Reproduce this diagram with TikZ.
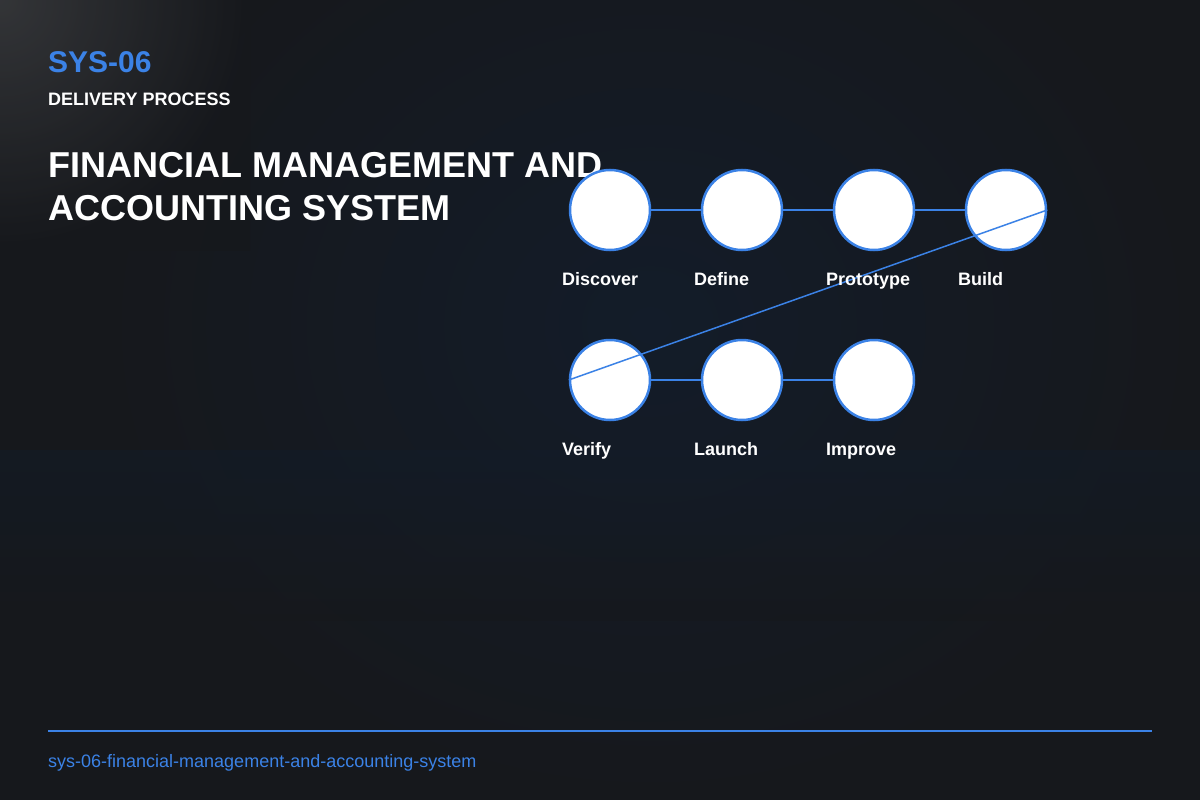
\documentclass[tikz,border=0pt]{standalone}
\usepackage{fontspec}
\setmainfont{Liberation Sans}
\definecolor{bg}{HTML}{16181C}
\definecolor{bgb}{HTML}{131C29}
\definecolor{acc}{HTML}{3B82E6}
\begin{document}
\begin{tikzpicture}[x=1pt,y=-1pt,
  stage/.style={circle,draw=acc,line width=2.5pt,fill=white,minimum size=80pt,inner sep=0pt},
  lbl/.style={anchor=base west,inner sep=0pt,text=white,font=\bfseries\fontsize{18}{21}\selectfont},
  link/.style={draw=acc,line width=2.5pt}]
\useasboundingbox (0,0) rectangle (1200,800);
\fill[bg] (0,0) rectangle (1200,800);
\shade[inner color=bgb,outer color=bg] (100,-150) rectangle (1200,800);
\shade[top color=bgb,bottom color=bg,opacity=0.5] (0,450) rectangle (1200,620);
\shade[inner color=gray!40!bg,outer color=bg,opacity=0.7] (-250,-250) rectangle (250,250);
\node[anchor=west,text=acc,font=\bfseries\fontsize{30}{34}\selectfont,inner sep=0pt] (id) at (48,62) {SYS-06};
\node[anchor=west,text=white,font=\bfseries\fontsize{18}{21}\selectfont,inner sep=0pt] (sub) at (48,99) {DELIVERY PROCESS};
\node[anchor=north west,text=white,font=\bfseries\fontsize{36}{43}\selectfont,align=left,inner sep=0pt] (title) at (48,152) {FINANCIAL MANAGEMENT AND\\ACCOUNTING SYSTEM};
\node[stage] (s1) at (610,210) {};
\node[stage] (s2) at (742,210) {};
\node[stage] (s3) at (874,210) {};
\node[stage] (s4) at (1006,210) {};
\node[stage] (s5) at (610,380) {};
\node[stage] (s6) at (742,380) {};
\node[stage] (s7) at (874,380) {};
\draw[link] (s1) -- (s2); \draw[link] (s2) -- (s3); \draw[link] (s3) -- (s4);
\draw[link] (s5) -- (s6); \draw[link] (s6) -- (s7);
\draw[acc,line width=1.5pt] (s4.east) -- (s5.west);
\node[lbl] (l1) at (562,285) {Discover};
\node[lbl] (l2) at (694,285) {Define};
\node[lbl] (l3) at (826,285) {Prototype};
\node[lbl] (l4) at (958,285) {Build};
\node[lbl] (l5) at (562,455) {Verify};
\node[lbl] (l6) at (694,455) {Launch};
\node[lbl] (l7) at (826,455) {Improve};
\coordinate (fa) at (48,731); \coordinate (fb) at (1152,731);
\draw[acc,line width=1.5pt] (fa) -- (fb);
\node[anchor=west,text=acc,font=\fontsize{18}{21}\selectfont,inner sep=0pt] (foot) at (48,763) {sys-06-financial-management-and-accounting-system};
\end{tikzpicture}
\end{document}
